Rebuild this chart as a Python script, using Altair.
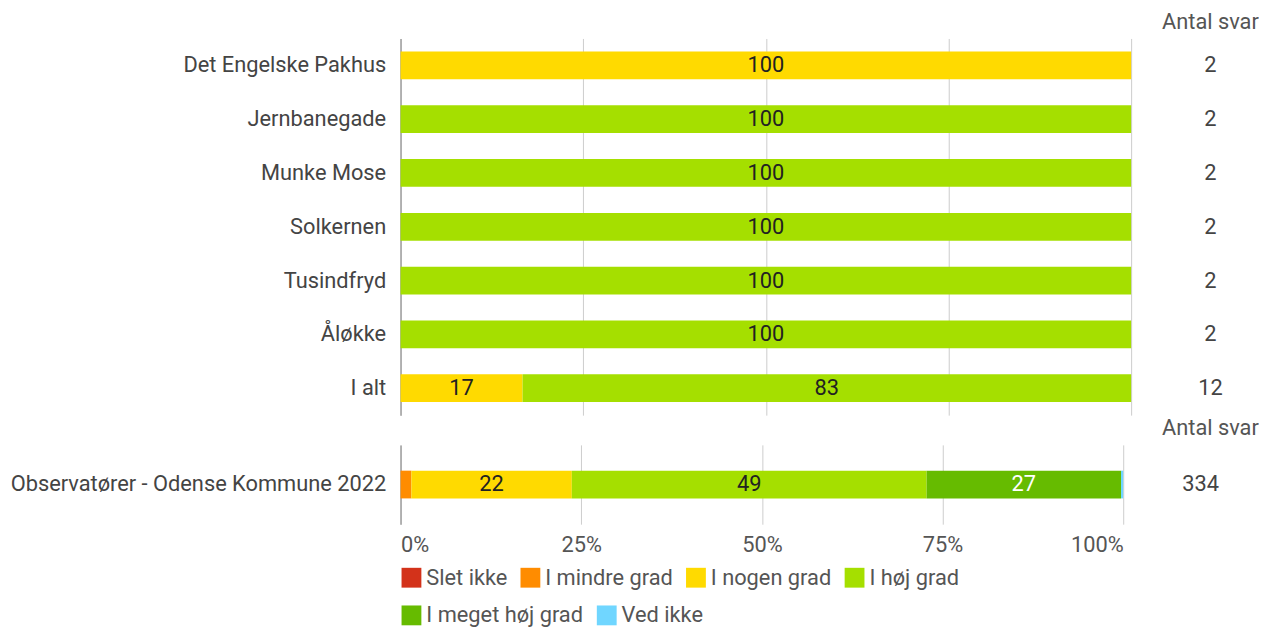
import altair as alt
import pandas as pd

answers = ["Slet ikke", "I mindre grad", "I nogen grad", "I høj grad", "I meget høj grad", "Ved ikke"]
colors = ["#D3321A", "#FF8C00", "#FFDA00", "#A5DF00", "#66BB00", "#70D6FF"]

top_rows = ["Det Engelske Pakhus", "Jernbanegade", "Munke Mose", "Solkernen", "Tusindfryd", "Åløkke", "I alt"]
top_slet = [0, 0, 0, 0, 0, 0, 0]
top_mindre = [0, 0, 0, 0, 0, 0, 0]
top_nogen = [100, 0, 0, 0, 0, 0, 16.7]
top_hoej = [0, 100, 100, 100, 100, 100, 83.3]
top_meget = [0, 0, 0, 0, 0, 0, 0]
top_vedikke = [0, 0, 0, 0, 0, 0, 0]
top_n = [2, 2, 2, 2, 2, 2, 12]

bot_rows = ["Observatører - Odense Kommune 2022"]
bot_slet = [0]
bot_mindre = [1.5]
bot_nogen = [22.2]
bot_hoej = [49.1]
bot_meget = [26.9]
bot_vedikke = [0.3]
bot_n = [334]

tick_values = [0, 25, 50, 75, 100]
FS = 22
LEG_Y = 533


def long_df(rows, series):
    recs = []
    for i, r in enumerate(rows):
        for k, a in enumerate(answers):
            v = series[k][i]
            if v > 0:
                recs.append({"cat": r, "answer": a, "order": k, "pct": v,
                             "lbl": str(int(round(v))),
                             "tc": "#ffffff" if a == "I meget høj grad" else "#222222"})
    return pd.DataFrame(recs)


top_df = long_df(top_rows, [top_slet, top_mindre, top_nogen, top_hoej, top_meget, top_vedikke])
bot_df = long_df(bot_rows, [bot_slet, bot_mindre, bot_nogen, bot_hoej, bot_meget, bot_vedikke])
top_n_df = pd.DataFrame({"cat": top_rows, "n": top_n})
bot_n_df = pd.DataFrame({"cat": bot_rows, "n": bot_n})

legend_common = dict(
    title=None, orient="none", legendX=0, direction="horizontal",
    symbolType="square", symbolSize=400, symbolStrokeWidth=0, symbolOpacity=1,
    labelFontSize=FS, labelColor="#555555", columnPadding=12,
    labelOffset=4, labelLimit=300,
)

color_enc = alt.Color(
    "answer:N",
    scale=alt.Scale(domain=answers, range=colors),
    legend=alt.Legend(values=answers[:4], legendY=LEG_Y, **legend_common),
)
fill_enc = alt.Fill(
    "answer:N",
    scale=alt.Scale(domain=answers[4:], range=colors[4:]),
    legend=alt.Legend(legendY=LEG_Y + 38, **legend_common),
)


def panel(df, rows, width, height, show_x_labels, with_second_legend):
    base = alt.Chart(df).transform_stack(
        stack="pct", groupby=["cat"], sort=[alt.SortField("order")], as_=["x0", "x1"]
    ).transform_calculate(mid="(datum.x0 + datum.x1) / 2")
    xaxis = alt.Axis(values=tick_values, title=None, ticks=False, domain=False,
                     labels=show_x_labels, labelExpr="datum.value + '%'",
                     labelFlush=True, labelFontSize=FS, labelColor="#555555",
                     labelPadding=11, grid=True, gridColor="#cccccc")
    yenc = alt.Y("cat:N", sort=rows, title=None,
                 axis=alt.Axis(ticks=False, labelPadding=15, labelFontSize=FS,
                               labelColor="#444444", labelLimit=600,
                               domainColor="#a0a0a0", domainWidth=1.5))
    bars = base.mark_bar(size=28).encode(
        x=alt.X("x0:Q", scale=alt.Scale(domain=[0, 100], nice=False), axis=xaxis),
        x2="x1:Q",
        y=yenc,
        color=color_enc,
    )
    text = base.transform_filter("datum.pct >= 5").mark_text(fontSize=FS).encode(
        x=alt.X("mid:Q"),
        y=alt.Y("cat:N", sort=rows),
        text="lbl:N",
        color=alt.Color("tc:N", scale=None),
    )
    layers = [bars, text]
    if with_second_legend:
        ghost = base.transform_filter(
            alt.FieldOneOfPredicate(field="answer", oneOf=answers[4:])
        ).mark_point(filled=True, opacity=0, shape="square").encode(
            x=alt.X("mid:Q"),
            y=alt.Y("cat:N", sort=rows),
            fill=fill_enc,
        )
        layers.append(ghost)
    return alt.layer(*layers).properties(width=width, height=height)


def count_col(df, rows, height, shift):
    return alt.Chart(df).mark_text(fontSize=FS, color="#444444", dx=shift).encode(
        y=alt.Y("cat:N", sort=rows, axis=None),
        text="n:Q",
    ).properties(
        width=80, height=height,
        title=alt.TitleParams("Antal svar", fontSize=FS, fontWeight="normal",
                              color="#555555", offset=5, anchor="middle"),
    )


top_bars = panel(top_df, top_rows, 737, 380, False, False)
bot_bars = panel(bot_df, bot_rows, 729, 80, True, True)
top_cnt = count_col(top_n_df, top_rows, 380, 0)
bot_cnt = count_col(bot_n_df, bot_rows, 80, -10)

chart = alt.concat(
    top_bars, top_cnt, bot_bars, bot_cnt, columns=2,
    spacing={"row": 2, "column": 31},
).properties(
    padding={"left": 2, "top": 0, "right": 0, "bottom": 0}
).configure(
    font="Roboto"
).configure_view(stroke=None)

chart.save("out.html", embed_options={"renderer": "svg", "actions": False})
